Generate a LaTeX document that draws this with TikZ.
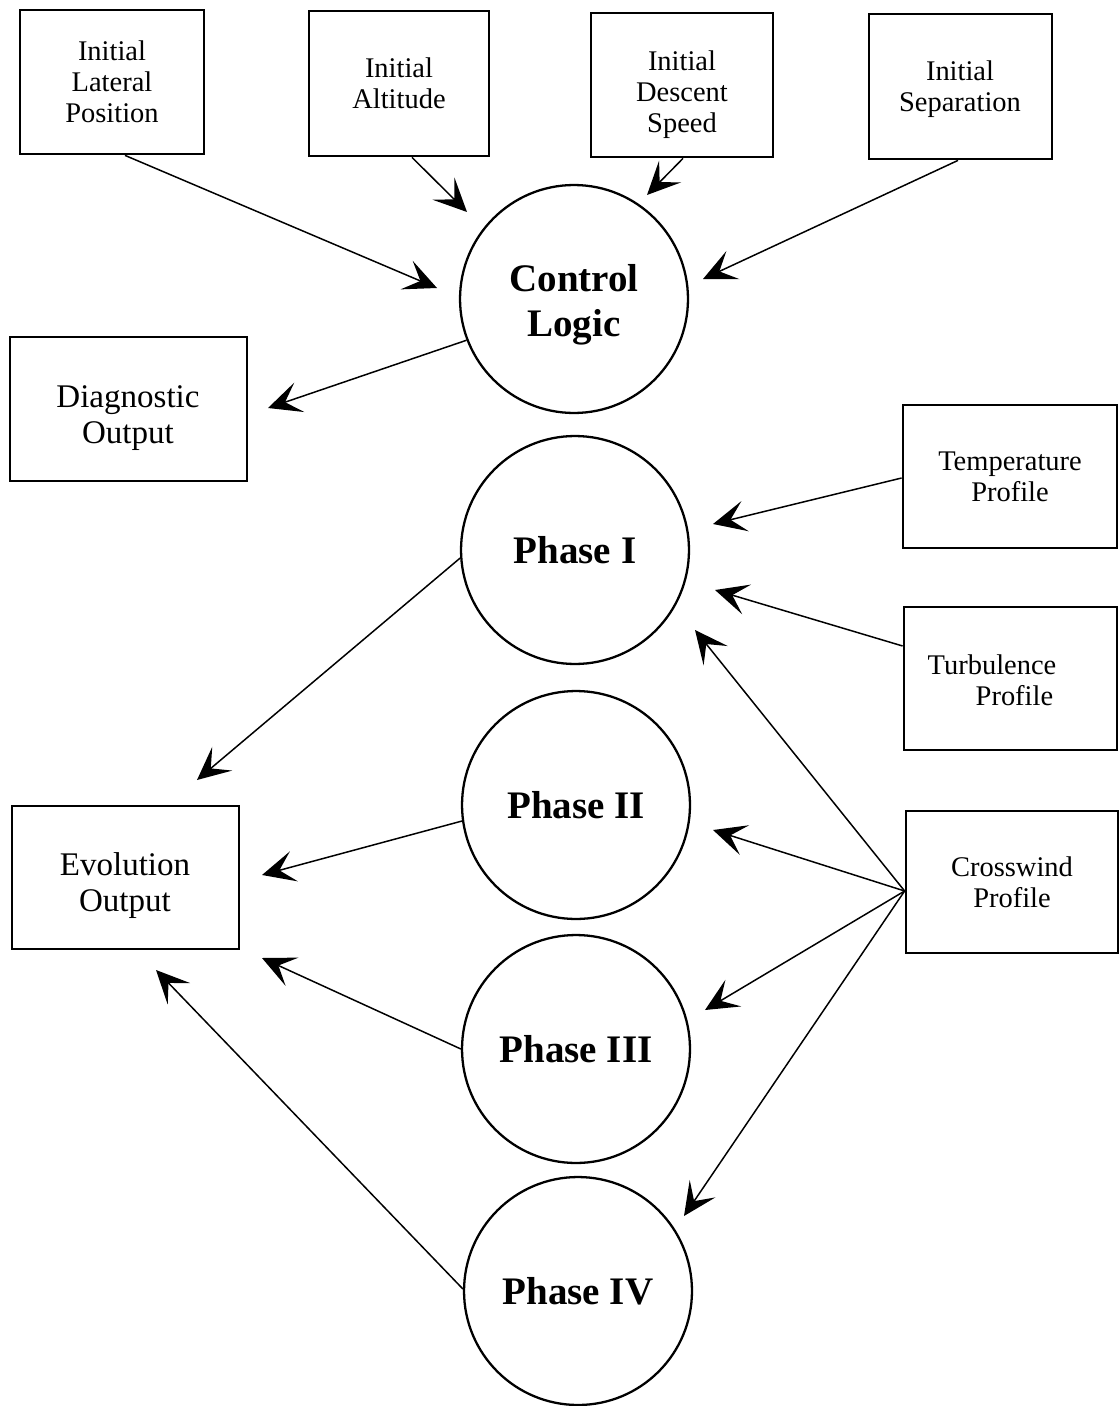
\documentclass[tikz,border=0pt]{standalone}
\usepackage{fontspec}
\setmainfont{Liberation Serif}
\usetikzlibrary{arrows.meta,calc}
\begin{document}
\begin{tikzpicture}[x=0.02cm,y=-0.02cm,
  box/.style={draw,line width=1.6pt,inner sep=0pt,align=center,font=\fontsize{16.2}{17.6}\selectfont},
  bigbox/.style={box,font=\fontsize{18.8}{20.5}\selectfont},
  boxtext/.style={inner sep=0pt,align=center,font=\fontsize{16.2}{17.6}\selectfont},
  bigtext/.style={inner sep=0pt,align=center,font=\fontsize{18.8}{20.5}\selectfont},
  phase/.style={draw,circle,line width=1.3pt,minimum size=4.56cm,inner sep=0pt,align=center,font=\bfseries\fontsize{22.2}{25.6}\selectfont},
  conn/.style={line width=0.85pt,-{Stealth[length=0.66cm,width=0.62cm,inset=0.3cm]}}]
\useasboundingbox (0,0) rectangle (1119,1406);
% boxes
\node[box,minimum width=3.68cm,minimum height=2.88cm] (lat) at (112,82) {Initial\\Lateral\\Position};
\node[box,minimum width=3.6cm,minimum height=2.9cm] (alt) at (399,83.5) {Initial\\Altitude};
\node[box,minimum width=3.64cm,minimum height=2.88cm] (des) at (682,85) {};
\node[boxtext] (destxt) at (682,95) {Initial\\Descent\\Speed};
\node[box,minimum width=3.66cm,minimum height=2.9cm] (sep) at (960.5,86.5) {};
\node[boxtext] (septxt) at (960,89) {Initial\\Separation};
\node[bigbox,minimum width=4.74cm,minimum height=2.88cm] (diag) at (128.5,409) {};
\node[bigtext] (diagtxt) at (128,418) {Diagnostic\\Output};
\node[box,minimum width=4.28cm,minimum height=2.86cm] (temp) at (1010,476.5) {Temperature\\Profile};
\node[box,minimum width=4.26cm,minimum height=2.86cm] (turb) at (1010.5,678.5) {};
\node[boxtext,align=left] (turbtxt) at (992,680) {Turbulence\\\hspace*{0.96cm}Profile};
\node[bigbox,minimum width=4.54cm,minimum height=2.86cm] (evo) at (125.5,877.5) {};
\node[bigtext] (evotxt) at (125,886) {Evolution\\Output};
\node[box,minimum width=4.24cm,minimum height=2.84cm] (cross) at (1012,882) {Crosswind\\Profile};
% circles
\node[phase] (cl) at (574,299) {};
\node[inner sep=0pt,align=center,font=\bfseries\fontsize{22.2}{25.6}\selectfont] (cltxt) at (574,305) {Control\\Logic};
\node[phase] (p1) at (575,550) {Phase I};
\node[phase] (p2) at (576,805) {Phase II};
\node[phase] (p3) at (576,1049) {Phase III};
\node[phase] (p4) at (578,1291) {Phase IV};
% arrow tips
\coordinate (t1) at (437,288);
\coordinate (t2) at (467,212);
\coordinate (t3) at (647,195);
\coordinate (t4) at (703,279);
\coordinate (t5) at (268,408);
\coordinate (t6) at (713,524);
\coordinate (t7) at (715,590);
\coordinate (t8) at (695,630);
\coordinate (t9) at (713,830);
\coordinate (t10) at (705,1010);
\coordinate (t11) at (684,1216);
\coordinate (t12) at (197,780);
\coordinate (t13) at (262,875);
\coordinate (t14) at (262,958);
\coordinate (t15) at (156,970);
% connectors
\draw[conn] ($(lat.south)+(13,0)$) -- (t1);
\draw[conn] ($(alt.south)+(13,0)$) -- (t2);
\draw[conn] ($(des.south)+(1,0)$) -- (t3);
\draw[conn] ($(sep.south)+(-2.5,0)$) -- (t4);
\draw[conn] (cl.201) -- (t5);
\draw[conn] ($(temp.west)+(0,1.5)$) -- (t6);
\draw[conn] ($(turb.west)+(0,-32.5)$) -- (t7);
\coordinate (cw) at ($(cross.west)+(0,9)$);
\draw[conn] (cw) -- (t8);
\draw[conn] (cw) -- (t9);
\draw[conn] (cw) -- (t10);
\draw[conn] (cw) -- (t11);
\draw[conn] (p1.184) -- (t12);
\draw[conn] (p2.188) -- (t13);
\draw[conn] (p3.west) -- (t14);
\draw[conn] (p4.179) -- (t15);
\end{tikzpicture}
\end{document}
